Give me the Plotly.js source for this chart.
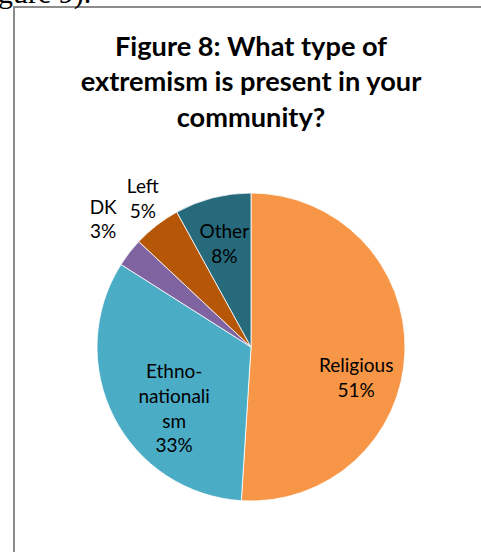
<!DOCTYPE html>
<html>
<head>
<meta charset="utf-8">
<script src="https://cdn.plot.ly/plotly-3.0.1.min.js"></script>
<style>
  html, body { margin: 0; padding: 0; background: #fff; }
  #wrap { position: relative; width: 481px; height: 552px; overflow: hidden; }
  #chart { position: absolute; left: 0; top: 0; width: 481px; height: 552px; }
  #frame { position: absolute; left: 13px; top: 6px; width: 500px; height: 600px;
           border-left: 2px solid #8c8c8c; border-top: 2px solid #8c8c8c; pointer-events: none; }
  #prev { position: absolute; left: -37px; top: -22px; font-family: "Liberation Serif", serif;
          font-size: 30px; line-height: 30px; color: #000; white-space: nowrap; }
</style>
</head>
<body>
<div id="wrap">
  <div id="chart"></div>
  <div id="frame"></div>
  <div id="prev">(Figure 9).</div>
</div>
<script>
const categories = ["Religious", "Ethno-nationalism", "DK", "Left", "Other"];
const displayLabels = ["Religious", "Ethno-<br>nationali<br>sm", "DK", "Left", "Other"];
const values = [51, 33, 3, 5, 8];
const colors = ["#F79646", "#4BACC6", "#8064A2", "#B65708", "#276A7C"];
const titleText = "Figure 8: What type of<br>extremism is present in your<br>community?";

const W = 481, H = 552;
const cx = 251, cy = 347, r = 154;
const FONT = "Lato, 'Noto Sans', sans-serif";
const FS = 19;
function dom(rad) {
  return { x: [(cx - rad) / W, (cx + rad) / W], y: [1 - (cy + rad) / H, 1 - (cy - rad) / H] };
}
const clear = categories.map(() => "rgba(0,0,0,0)");

function base(extra) {
  return Object.assign({
    type: "pie",
    labels: categories,
    values: values,
    text: displayLabels,
    texttemplate: "%{text}<br>%{percent:.0%}",
    insidetextorientation: "horizontal",
    sort: false,
    direction: "clockwise",
    rotation: 0,
    textfont: { family: FONT, size: FS, color: "#000000" },
    domain: dom(r),
    hoverinfo: "label+percent",
    showlegend: false
  }, extra);
}

// visible slices
const slices = base({
  marker: { colors: colors, line: { color: "#ffffff", width: 0.8 } },
  textposition: "none"
});

// one transparent copy per label, so each label can sit where the original puts it
function labelTrace(idx, pos, opts) {
  return base(Object.assign({
    marker: { colors: clear, line: { width: 0 } },
    textposition: categories.map((_, i) => (i === idx ? pos : "none")),
    hoverinfo: "skip"
  }, opts));
}

const traces = [
  slices,
  labelTrace(0, "inside",  { hole: 0.42, rotation: 14 }),
  labelTrace(1, "inside",  { rotation: -11.4, domain: dom(182.5) }),
  labelTrace(2, "outside", { rotation: 6, domain: dom(r + 15) }),
  labelTrace(3, "outside", { rotation: 6.4 }),
  labelTrace(4, "inside",  { hole: 0.42, domain: dom(r * 0.87) })
];

const layout = {
  width: W, height: H,
  margin: { l: 0, r: 0, t: 0, b: 0 },
  paper_bgcolor: "#ffffff",
  showlegend: false,
  uniformtext: { mode: "show", minsize: FS },
  title: {
    text: titleText,
    font: { family: FONT, size: 27.2, color: "#000000", weight: "bold" },
    x: 251 / W, xanchor: "center",
    y: 1 - 56 / H, yanchor: "top", yref: "container"
  }
};

Plotly.newPlot("chart", traces, layout, { displayModeBar: false, staticPlot: true });
</script>
</body>
</html>
